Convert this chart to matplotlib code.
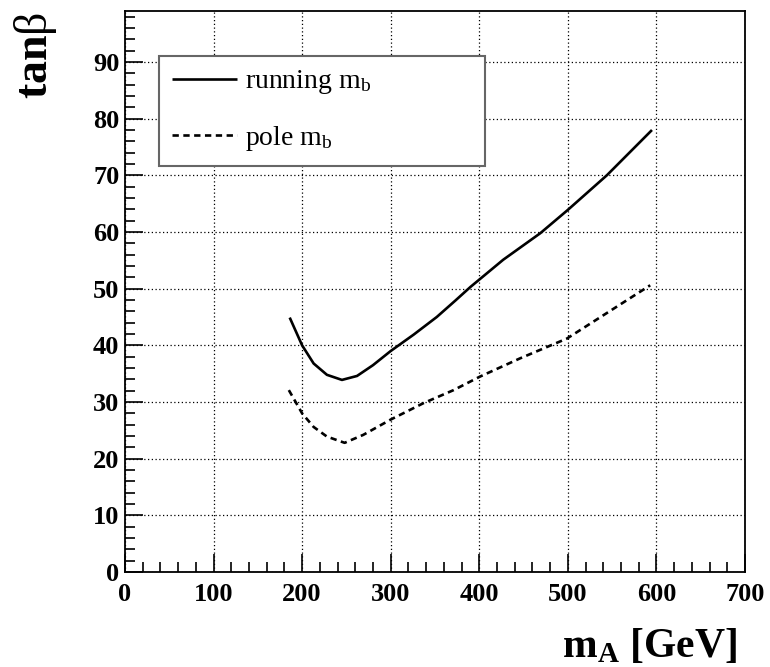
import matplotlib
matplotlib.use("Agg")
from matplotlib import pyplot as plt
from matplotlib.ticker import MultipleLocator

plt.rcParams['font.family'] = ['Liberation Serif', 'DejaVu Serif']
plt.rcParams['mathtext.fontset'] = 'custom'
plt.rcParams['mathtext.rm'] = 'Liberation Serif'
plt.rcParams['mathtext.it'] = 'Liberation Serif:italic'
plt.rcParams['mathtext.bf'] = 'Liberation Serif:bold'

# running m_b curve
run_mA = [186, 200, 213, 228, 245, 262, 280, 300, 326, 352, 373, 390, 427, 469, 500, 544, 595]
run_tb = [44.9, 40.0, 36.8, 34.8, 33.9, 34.6, 36.5, 39.0, 41.9, 45.0, 47.9, 50.3, 55.1, 59.8, 63.9, 70.0, 78.0]
# pole m_b curve
pole_mA = [185, 200, 213, 228, 248, 269, 300, 337, 371, 401, 446, 499, 540, 593]
pole_tb = [32.1, 28.0, 25.6, 23.9, 22.8, 24.2, 26.9, 29.8, 32.1, 34.5, 37.7, 41.2, 45.3, 50.6]

fig = plt.figure(figsize=(7.7, 6.67), dpi=100)
ax = fig.add_axes([0.1623, 0.1424, 0.8052, 0.8411])

ax.plot(run_mA, run_tb, color='black', lw=1.9, solid_capstyle='butt', label=r'running m$_{\mathregular{b}}$')
ax.plot(pole_mA, pole_tb, color='black', lw=1.9, linestyle=(0, (2.4, 1.7)), label=r'pole m$_{\mathregular{b}}$')

ax.set_xlim(0, 700)
ax.set_ylim(0, 99)
ax.xaxis.set_major_locator(MultipleLocator(100))
ax.xaxis.set_minor_locator(MultipleLocator(20))
ax.yaxis.set_major_locator(MultipleLocator(10))
ax.yaxis.set_minor_locator(MultipleLocator(2))
ax.tick_params(which='both', direction='in', top=False, right=False, width=1.2, color='black')
ax.tick_params(which='major', length=13)
ax.tick_params(which='minor', length=7)
ax.tick_params(axis='x', which='major', pad=8)
ax.tick_params(axis='y', which='major', pad=4)
for lab in ax.get_xticklabels() + ax.get_yticklabels():
    lab.set_fontsize(19)
    lab.set_fontweight('bold')
for sp in ax.spines.values():
    sp.set_linewidth(1.3)

ax.grid(True, which='major', color='black', linestyle=(0, (1, 2)), lw=0.9)
ax.set_axisbelow(True)

leg = ax.legend(loc='upper left', bbox_to_anchor=(0.055, 0.727, 0.526, 0.193), mode='expand',
                fontsize=20, frameon=True, fancybox=False, framealpha=1, borderpad=0.45,
                handlelength=2.35, handletextpad=0.3, labelspacing=1.0, borderaxespad=0)
leg.get_frame().set_edgecolor('#666666')
leg.get_frame().set_linewidth(1.5)

ax.text(0.987, -0.152, r'$\mathbf{m}_{\mathbf{A}}$ [GeV]', transform=ax.transAxes,
        ha='right', va='baseline', fontsize=30, fontweight='bold')
ax.text(-0.145, 0.998, r'$\mathbf{tan}\mathrm{\beta}$', transform=ax.transAxes,
        rotation=90, ha='center', va='top', fontsize=33)

fig.savefig('out.png', dpi=100)
